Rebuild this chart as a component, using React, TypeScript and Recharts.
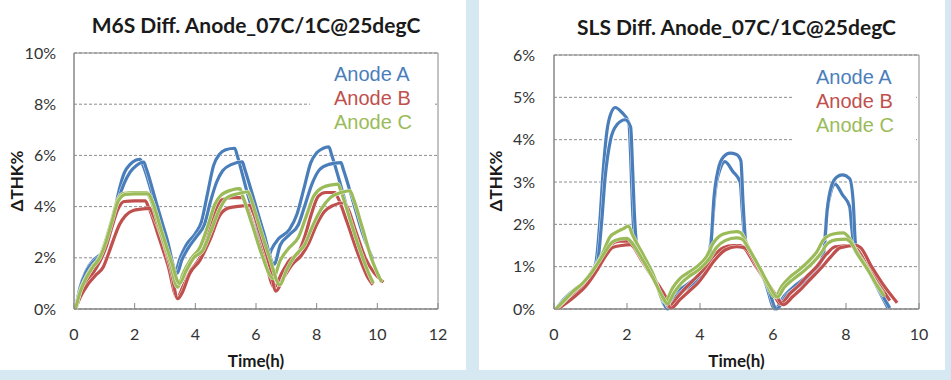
import React from "react";
import {
  LineChart,
  Line,
  XAxis,
  YAxis,
  CartesianGrid,
  ReferenceArea,
} from "recharts";

type Pt = [number, number];

// ---- M6S panel (time h, ΔTHK %) ----
const m6sTicksX = [0, 2, 4, 6, 8, 10, 12];
const m6sTicksY = [0, 2, 4, 6, 8, 10];

const m6sA1: Pt[] = [
  [0.05, 0], [0.2, 0.85], [0.4, 1.5], [0.65, 1.92], [0.95, 2.25], [1.15, 2.9], [1.35, 3.9],
  [1.5, 4.7], [1.65, 5.3], [1.85, 5.65], [2.05, 5.82], [2.18, 5.85], [2.28, 5.6], [2.6, 4.4],
  [3.0, 2.9], [3.35, 1.5], [3.5, 2.0], [3.7, 2.5], [4.0, 2.95], [4.2, 3.4], [4.4, 4.5],
  [4.6, 5.6], [4.8, 6.05], [5.0, 6.22], [5.3, 6.28], [5.38, 6.0], [5.7, 4.6], [6.0, 3.4],
  [6.35, 1.8], [6.5, 2.3], [6.75, 2.75], [7.1, 3.1], [7.35, 3.7], [7.6, 4.8], [7.8, 5.7],
  [8.0, 6.1], [8.2, 6.27], [8.4, 6.33], [8.5, 6.0], [8.8, 4.8], [9.1, 3.5], [9.45, 2.0],
];
const m6sA2: Pt[] = [
  [0.05, 0], [0.2, 0.82], [0.4, 1.45], [0.65, 1.85], [0.95, 2.2], [1.15, 2.8], [1.35, 3.7],
  [1.5, 4.4], [1.65, 4.9], [1.85, 5.35], [2.05, 5.6], [2.3, 5.74], [2.38, 5.5], [2.7, 4.2],
  [3.05, 2.8], [3.4, 1.4], [3.55, 1.9], [3.75, 2.35], [4.05, 2.85], [4.3, 3.3], [4.5, 4.2],
  [4.7, 4.95], [4.9, 5.4], [5.2, 5.65], [5.55, 5.75], [5.62, 5.5], [5.95, 4.2], [6.25, 3.0],
  [6.6, 1.75], [6.8, 2.5], [7.1, 2.9], [7.4, 3.3], [7.6, 4.0], [7.85, 4.9], [8.1, 5.45],
  [8.4, 5.65], [8.8, 5.72], [8.88, 5.45], [9.2, 4.2], [9.5, 3.0], [9.85, 1.95],
];
const m6sB1: Pt[] = [
  [0.05, 0], [0.2, 0.55], [0.4, 1.0], [0.6, 1.35], [0.85, 1.85], [1.05, 2.4], [1.25, 3.2],
  [1.45, 3.9], [1.65, 4.2], [2.0, 4.22], [2.35, 4.22], [2.45, 4.0], [2.8, 2.8], [3.1, 1.7],
  [3.4, 0.45], [3.6, 0.9], [3.85, 1.5], [4.15, 2.0], [4.4, 2.8], [4.65, 3.8], [4.85, 4.25],
  [5.2, 4.35], [5.55, 4.35], [5.65, 4.15], [6.0, 2.9], [6.3, 1.9], [6.6, 0.85], [6.85, 1.4],
  [7.1, 1.9], [7.4, 2.2], [7.6, 2.8], [7.85, 3.8], [8.05, 4.4], [8.3, 4.55], [8.6, 4.55],
  [8.7, 4.35], [9.0, 3.4], [9.35, 2.2], [9.7, 1.2], [9.85, 0.95],
];
const m6sB2: Pt[] = [
  [0.05, 0], [0.2, 0.45], [0.45, 0.95], [0.7, 1.3], [0.97, 1.65], [1.15, 2.2], [1.3, 2.7],
  [1.5, 3.3], [1.7, 3.65], [1.95, 3.85], [2.2, 3.9], [2.5, 3.93], [2.6, 3.7], [2.95, 2.6],
  [3.2, 1.5], [3.42, 0.4], [3.55, 0.6], [3.82, 1.4], [4.15, 1.9], [4.48, 2.7], [4.8, 3.65],
  [5.1, 3.95], [5.5, 4.02], [5.8, 4.05], [5.9, 3.8], [6.2, 2.7], [6.45, 1.7], [6.66, 0.7],
  [6.9, 1.2], [7.2, 1.75], [7.5, 2.1], [7.75, 2.6], [8.0, 3.3], [8.25, 3.8], [8.55, 4.05],
  [8.9, 4.15], [9.0, 4.0], [9.3, 3.0], [9.6, 2.0], [9.9, 1.4], [10.2, 1.05],
];
const m6sC1: Pt[] = [
  [0.05, 0], [0.2, 0.7], [0.4, 1.25], [0.6, 1.65], [0.85, 2.05], [1.05, 2.7], [1.25, 3.5],
  [1.45, 4.3], [1.65, 4.52], [2.0, 4.55], [2.4, 4.55], [2.5, 4.35], [2.85, 3.0], [3.15, 1.9],
  [3.42, 0.85], [3.6, 1.4], [3.85, 1.95], [4.15, 2.4], [4.4, 3.2], [4.65, 4.1], [4.85, 4.45],
  [5.2, 4.65], [5.47, 4.7], [5.55, 4.45], [5.9, 3.2], [6.2, 2.1], [6.56, 1.2], [6.8, 1.9],
  [7.1, 2.4], [7.4, 2.8], [7.65, 3.6], [7.9, 4.4], [8.2, 4.75], [8.5, 4.85], [8.7, 4.88],
  [8.8, 4.6], [9.1, 3.5], [9.4, 2.4], [9.75, 1.3], [9.87, 1.0],
];
const m6sC2: Pt[] = [
  [0.05, 0], [0.2, 0.65], [0.4, 1.2], [0.6, 1.6], [0.85, 2.0], [1.05, 2.6], [1.25, 3.4],
  [1.45, 4.2], [1.7, 4.48], [2.0, 4.5], [2.45, 4.5], [2.55, 4.3], [2.9, 3.0], [3.2, 1.9],
  [3.48, 1.0], [3.7, 1.5], [3.95, 2.0], [4.25, 2.3], [4.5, 3.0], [4.8, 3.9], [5.05, 4.35],
  [5.4, 4.5], [5.74, 4.58], [5.82, 4.35], [6.15, 3.1], [6.45, 2.0], [6.79, 0.94], [7.0, 1.5],
  [7.3, 2.1], [7.6, 2.5], [7.85, 3.2], [8.15, 3.9], [8.45, 4.35], [8.8, 4.55], [9.1, 4.62],
  [9.2, 4.35], [9.5, 3.2], [9.8, 2.0], [10.14, 1.05],
];

// ---- SLS panel ----
const slsTicksX = [0, 2, 4, 6, 8, 10];
const slsTicksY = [0, 1, 2, 3, 4, 5, 6];

const slsA1: Pt[] = [
  [0.05, 0], [0.3, 0.25], [0.55, 0.45], [0.8, 0.6], [1.05, 0.9], [1.15, 1.1], [1.25, 2.0],
  [1.35, 3.3], [1.45, 4.2], [1.55, 4.6], [1.68, 4.76], [1.85, 4.65], [2.05, 4.4], [2.1, 3.6],
  [2.15, 2.4], [2.22, 1.6], [2.5, 1.15], [2.8, 0.6], [3.08, 0.05], [3.3, 0.35], [3.6, 0.55],
  [3.9, 0.75], [4.15, 1.0], [4.3, 1.6], [4.42, 2.8], [4.55, 3.3], [4.68, 3.48], [4.9, 3.25],
  [5.1, 3.0], [5.16, 2.3], [5.24, 1.55], [5.5, 1.15], [5.8, 0.6], [6.05, 0.0], [6.3, 0.3],
  [6.6, 0.55], [6.9, 0.75], [7.2, 1.0], [7.38, 1.3], [7.48, 2.3], [7.58, 2.75], [7.7, 2.95],
  [7.9, 2.7], [8.1, 2.42], [8.16, 1.9], [8.22, 1.45], [8.5, 1.1], [8.8, 0.6], [9.15, 0.02],
];
const slsA2: Pt[] = [
  [0.05, 0], [0.3, 0.25], [0.55, 0.45], [0.8, 0.6], [1.05, 0.9], [1.2, 1.15], [1.3, 2.0],
  [1.4, 3.1], [1.55, 4.0], [1.72, 4.35], [1.95, 4.47], [2.1, 4.3], [2.15, 3.4], [2.2, 2.3],
  [2.27, 1.5], [2.55, 1.1], [2.85, 0.55], [3.12, 0.0], [3.35, 0.3], [3.65, 0.5], [3.95, 0.7],
  [4.2, 0.95], [4.3, 1.5], [4.38, 2.6], [4.5, 3.3], [4.65, 3.6], [4.82, 3.68], [5.0, 3.65],
  [5.12, 3.5], [5.18, 2.5], [5.26, 1.55], [5.55, 1.1], [5.85, 0.55], [6.1, 0.0], [6.35, 0.3],
  [6.65, 0.5], [6.95, 0.72], [7.25, 1.0], [7.4, 1.4], [7.48, 2.3], [7.6, 2.9], [7.75, 3.12],
  [7.9, 3.17], [8.1, 3.08], [8.2, 2.5], [8.26, 1.55], [8.55, 1.05], [8.85, 0.55], [9.2, 0.02],
];
const slsB1: Pt[] = [
  [0.05, 0], [0.3, 0.15], [0.5, 0.3], [0.8, 0.53], [1.0, 0.75], [1.17, 0.99], [1.4, 1.32],
  [1.55, 1.52], [1.8, 1.6], [2.05, 1.6], [2.15, 1.5], [2.4, 1.15], [2.7, 0.75], [2.95, 0.4],
  [3.15, 0.05], [3.4, 0.3], [3.64, 0.53], [3.9, 0.75], [4.09, 0.92], [4.36, 1.24], [4.64, 1.45],
  [4.9, 1.5], [5.1, 1.5], [5.2, 1.45], [5.5, 1.05], [5.8, 0.65], [6.05, 0.3], [6.2, 0.12],
  [6.47, 0.37], [6.7, 0.55], [6.92, 0.76], [7.2, 1.0], [7.47, 1.3], [7.7, 1.47], [8.2, 1.5],
  [8.3, 1.42], [8.6, 1.0], [8.9, 0.6], [9.2, 0.2],
];
const slsB2: Pt[] = [
  [0.1, 0], [0.35, 0.15], [0.6, 0.32], [0.85, 0.52], [1.05, 0.75], [1.2, 0.95], [1.45, 1.3],
  [1.6, 1.45], [1.85, 1.5], [2.1, 1.52], [2.2, 1.45], [2.5, 1.05], [2.8, 0.65], [3.05, 0.3],
  [3.2, 0.02], [3.45, 0.22], [3.7, 0.42], [3.95, 0.62], [4.15, 0.85], [4.4, 1.15], [4.7, 1.4],
  [5.0, 1.47], [5.2, 1.45], [5.3, 1.4], [5.6, 0.95], [5.9, 0.55], [6.1, 0.3], [6.28, 0.1],
  [6.55, 0.3], [6.8, 0.5], [7.0, 0.68], [7.3, 0.95], [7.55, 1.2], [7.85, 1.45], [8.3, 1.5],
  [8.4, 1.45], [8.7, 1.0], [9.0, 0.6], [9.4, 0.15],
];
const slsC1: Pt[] = [
  [0.05, 0], [0.3, 0.2], [0.5, 0.38], [0.8, 0.62], [1.05, 0.9], [1.2, 1.1], [1.35, 1.35],
  [1.53, 1.7], [1.72, 1.82], [1.9, 1.9], [2.04, 1.96], [2.15, 1.75], [2.4, 1.35], [2.7, 0.85],
  [3.04, 0.17], [3.25, 0.5], [3.45, 0.72], [3.7, 0.87], [3.91, 1.0], [4.18, 1.24], [4.36, 1.55],
  [4.64, 1.77], [5.0, 1.83], [5.12, 1.8], [5.3, 1.5], [5.6, 1.0], [5.85, 0.55], [6.05, 0.28],
  [6.25, 0.55], [6.47, 0.76], [6.75, 0.95], [7.01, 1.16], [7.2, 1.35], [7.38, 1.63],
  [7.65, 1.77], [7.93, 1.8], [8.05, 1.72], [8.3, 1.35], [8.6, 0.95], [8.8, 0.65], [9.02, 0.37],
];
const slsC2: Pt[] = [
  [0.05, 0], [0.3, 0.22], [0.5, 0.4], [0.8, 0.62], [1.05, 0.88], [1.2, 1.08], [1.4, 1.35],
  [1.6, 1.58], [1.8, 1.65], [2.0, 1.67], [2.1, 1.6], [2.4, 1.2], [2.7, 0.75], [3.0, 0.25],
  [3.1, 0.12], [3.3, 0.4], [3.5, 0.62], [3.75, 0.8], [4.0, 0.95], [4.25, 1.18], [4.45, 1.45],
  [4.7, 1.62], [5.0, 1.68], [5.15, 1.65], [5.35, 1.4], [5.65, 0.95], [5.9, 0.55], [6.12, 0.28],
  [6.3, 0.5], [6.55, 0.7], [6.85, 0.9], [7.1, 1.1], [7.3, 1.3], [7.5, 1.55], [7.75, 1.64],
  [8.0, 1.65], [8.1, 1.6], [8.35, 1.25], [8.65, 0.85], [8.85, 0.55], [9.05, 0.3],
];

const legendNames = ["Anode A", "Anode B", "Anode C"];
const BLUE = "#4a7ebb";
const RED = "#c0504d";
const GREEN = "#9bbb59";
const seriesColors = [BLUE, BLUE, RED, RED, GREEN, GREEN];

const rows = (pts: Pt[]) => pts.map(([t, v]) => ({ t, v }));

const calibri = "Lato, 'Open Sans', sans-serif";

interface PanelProps {
  left: number;
  title: string;
  titleY: number;
  series: Pt[][];
  xMax: number;
  xTicks: number[];
  yMax: number;
  yTicks: number[];
  top: number;
  plotLeft: number;
  plotRight: number;
  legendBox: { x: number; y: number; w: number; h: number };
}

function Centered({ x, y, children, style }: any) {
  return (
    <div
      style={{
        position: "absolute",
        left: x,
        top: y,
        transform: "translate(-50%, -50%)",
        whiteSpace: "nowrap",
        ...style,
      }}
    >
      {children}
    </div>
  );
}

function Panel(p: PanelProps) {
  const W = 466;
  const H = 370;
  const plotBottom = 309;
  const axisH = 30;
  const yAxisW = 50;
  const cx = (p.plotLeft + p.plotRight) / 2;

  return (
    <div
      style={{
        position: "absolute",
        left: p.left,
        top: 0,
        width: W,
        height: H,
        background: "#fff",
      }}
    >
      <LineChart
        width={W}
        height={H}
        margin={{
          top: p.top,
          right: W - p.plotRight,
          bottom: H - plotBottom - axisH,
          left: p.plotLeft - yAxisW,
        }}
      >
        <CartesianGrid vertical={false} stroke="#8c8c8c" strokeDasharray="3 2" />
        <XAxis
          type="number"
          dataKey="t"
          domain={[0, p.xMax]}
          ticks={p.xTicks}
          height={axisH}
          tickSize={-6}
          tickMargin={26}
          stroke="#868686"
          tick={{ fill: "#333", fontSize: 16, fontFamily: calibri }}
        />
        <YAxis
          type="number"
          dataKey="v"
          domain={[0, p.yMax]}
          ticks={p.yTicks}
          width={yAxisW}
          tickLine={false}
          tickSize={0}
          tickMargin={p.plotLeft - 56}
          stroke="#868686"
          tickFormatter={(v) => `${v}%`}
          tick={{ fill: "#333", fontSize: 16, fontFamily: calibri }}
        />
        <ReferenceArea
          x1={0}
          x2={p.xMax}
          y1={0}
          y2={p.yMax}
          fill="none"
          stroke="#868686"
          strokeWidth={1}
        />
        {p.series.map((s, i) => (
          <React.Fragment key={i}>
            <Line
              data={rows(s)}
              dataKey="v"
              type="monotone"
              stroke="#ffffff"
              strokeOpacity={0.85}
              strokeWidth={4}
              dot={false}
              activeDot={false}
              isAnimationActive={false}
            />
            <Line
              data={rows(s)}
              dataKey="v"
              type="monotone"
              stroke={seriesColors[i]}
              strokeWidth={3.2}
              dot={false}
              activeDot={false}
              isAnimationActive={false}
            />
          </React.Fragment>
        ))}
      </LineChart>

      {/* legend box with white fill, hides the grid lines behind it */}
      <div
        style={{
          position: "absolute",
          left: p.legendBox.x,
          top: p.legendBox.y,
          width: p.legendBox.w,
          height: p.legendBox.h,
          background: "#fff",
          fontFamily: "'Liberation Sans', Arial, sans-serif",
          fontSize: 20,
          lineHeight: "24px",
          paddingLeft: 24,
          paddingTop: 4,
          boxSizing: "border-box",
        }}
      >
        {legendNames.map((n, i) => (
          <div key={n} style={{ color: [BLUE, RED, GREEN][i] }}>
            {n}
          </div>
        ))}
      </div>

      <Centered
        x={cx}
        y={p.titleY}
        style={{ fontFamily: calibri, fontWeight: 700, fontSize: 21, color: "#1a1a1a" }}
      >
        {p.title}
      </Centered>
      <Centered
        x={16}
        y={181}
        style={{
          fontFamily: calibri,
          fontWeight: 700,
          fontSize: 17,
          color: "#1a1a1a",
          transform: "translate(-50%, -50%) rotate(-90deg)",
        }}
      >
        ΔTHK%
      </Centered>
      <Centered
        x={cx}
        y={360}
        style={{ fontFamily: calibri, fontWeight: 700, fontSize: 17, color: "#1a1a1a" }}
      >
        Time(h)
      </Centered>
    </div>
  );
}

export default function App() {
  return (
    <div
      style={{
        position: "absolute",
        left: 0,
        top: 0,
        width: 951,
        height: 380,
        background: "#d6e9f2",
        overflow: "hidden",
      }}
    >
      <Panel
        left={0}
        title="M6S Diff. Anode_07C/1C@25degC"
        titleY={24}
        series={[m6sA1, m6sA2, m6sB1, m6sB2, m6sC1, m6sC2]}
        xMax={12}
        xTicks={m6sTicksX}
        yMax={10}
        yTicks={m6sTicksY}
        top={53}
        plotLeft={74}
        plotRight={438}
        legendBox={{ x: 310, y: 58, w: 125, h: 82 }}
      />
      <Panel
        left={479}
        title="SLS Diff. Anode_07C/1C@25degC"
        titleY={26}
        series={[slsA1, slsA2, slsB1, slsB2, slsC1, slsC2]}
        xMax={10}
        xTicks={slsTicksX}
        yMax={6}
        yTicks={slsTicksY}
        top={55}
        plotLeft={75}
        plotRight={440}
        legendBox={{ x: 313, y: 61, w: 124, h: 89 }}
      />
    </div>
  );
}
